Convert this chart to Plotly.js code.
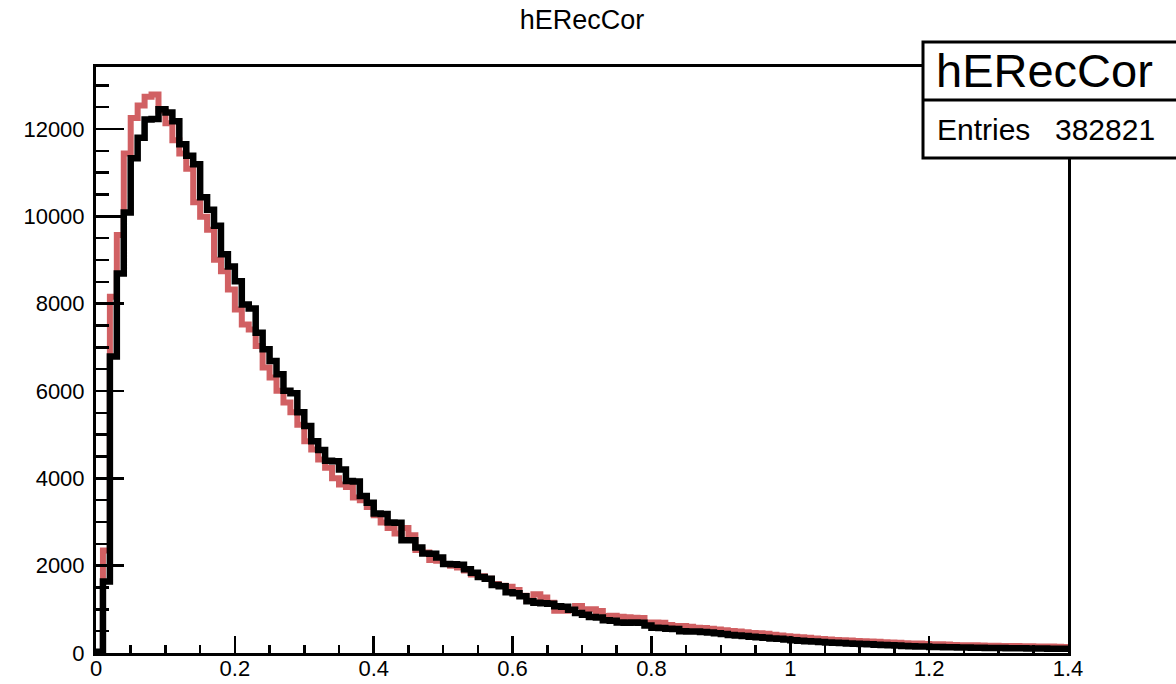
<!DOCTYPE html>
<html>
<head>
<meta charset="utf-8">
<script src="https://cdn.plot.ly/plotly-3.0.1.min.js"></script>
<style>html,body{margin:0;padding:0;background:#fff;}#chart{width:1176px;height:684px;}</style>
</head>
<body>
<div id="chart"></div>
<script>
// Histogram binning: 140 bins from 0 to 1.4
const binLow = 0;
const binWidth = 0.01;

// Black histogram (hERecCor)
const blackCounts = [
  30, 1640, 6790, 8690, 10090, 11330, 11800, 12220, 12230, 12450,
  12380, 12180, 11650, 11385, 11195, 10436, 10150, 9785, 9130, 8853,
  8512, 7980, 7889, 7334, 6954, 6688, 6384, 6004, 5951, 5511,
  5200, 4850, 4650, 4400, 4390, 4203, 3937, 3930, 3595, 3443,
  3192, 3185, 2987, 2980, 2584, 2580, 2417, 2280, 2275, 2189,
  2037, 2030, 2020, 1920, 1840, 1740, 1700, 1560, 1530, 1390,
  1370, 1300, 1185, 1150, 1140, 1130, 1070, 1060, 990, 915,
  875, 825, 815, 750, 740, 700, 690, 700, 690, 630,
  580, 575, 555, 550, 500, 495, 490, 480, 470, 455,
  435, 415, 398, 390, 372, 362, 348, 334, 328, 312,
  294, 280, 270, 262, 252, 240, 232, 228, 218, 212,
  205, 198, 190, 186, 176, 170, 162, 157, 150, 148,
  140, 139, 134, 131, 128, 124, 122, 119, 117, 115,
  112, 111, 108, 107, 104, 103, 101, 99, 97, 95
];

// Red histogram (comparison)
const redCounts = [
  0, 2350, 8160, 9570, 11440, 12250, 12540, 12740, 12790, 12420,
  12130, 11740, 11440, 11090, 10320, 9990, 9690, 9006, 8740, 8322,
  7866, 7524, 7410, 7029, 6536, 6308, 6004, 5739, 5511, 5230,
  4850, 4660, 4430, 4240, 4000, 3860, 3800, 3560, 3496, 3344,
  3154, 2987, 2865, 2736, 2865, 2698, 2356, 2300, 2128, 2110,
  2040, 2000, 1960, 1890, 1800, 1760, 1700, 1580, 1540, 1520,
  1440, 1310, 1200, 1345, 1269, 1150, 965, 970, 985, 1079,
  1003, 1000, 960, 850, 851, 828, 820, 810, 800, 700,
  699, 690, 640, 620, 616, 600, 580, 570, 555, 540,
  520, 505, 495, 475, 460, 450, 440, 420, 400, 385,
  375, 360, 350, 330, 320, 310, 298, 292, 285, 275,
  270, 265, 255, 248, 242, 235, 225, 220, 215, 208,
  202, 198, 192, 185, 180, 178, 175, 172, 168, 165,
  162, 160, 158, 155, 152, 150, 148, 146, 143, 140
];

const yTickVals = [0, 2000, 4000, 6000, 8000, 10000, 12000];
const xTickVals = [0, 0.2, 0.4, 0.6, 0.8, 1, 1.2, 1.4];
const xTickText = ['0', '0.2', '0.4', '0.6', '0.8', '1', '1.2', '1.4'];

const histTitle = 'hERecCor';
const statsName = 'hERecCor';
const statsLabel = 'Entries';
const statsEntries = '382821';

function stepXY(counts) {
  const xs = [], ys = [];
  for (let i = 0; i < counts.length; i++) {
    xs.push(+(binLow + i * binWidth).toFixed(6));
    ys.push(counts[i]);
  }
  xs.push(+(binLow + counts.length * binWidth).toFixed(6));
  ys.push(counts[counts.length - 1]);
  return {xs, ys};
}

const r = stepXY(redCounts);
const b = stepXY(blackCounts);

const FONT = 'Liberation Sans, Arial, Helvetica, sans-serif';

const traces = [
  {x: r.xs, y: r.ys, type: 'scatter', mode: 'lines', line: {shape: 'hv', color: '#d16063', width: 6}, hoverinfo: 'skip'},
  {x: b.xs, y: b.ys, type: 'scatter', mode: 'lines', line: {shape: 'hv', color: '#000000', width: 6.5}, hoverinfo: 'skip'}
];

// plot area in pixels: x 96..1068, y 67..653.5
const L = 96, R = 1068, T = 67, B = 653.5;
const px = v => (v - L) / (R - L);
const py = v => (B - v) / (B - T);

const layout = {
  width: 1176, height: 684,
  margin: {l: L, r: 1176 - R, t: T, b: 684 - B, pad: 0},
  paper_bgcolor: '#fff', plot_bgcolor: '#fff',
  showlegend: false,
  font: {family: FONT, color: '#000'},
  title: {text: histTitle, font: {family: FONT, size: 27, color: '#000'}, x: 0.5, xref: 'paper', xanchor: 'center', y: 1 - 20/684, yanchor: 'middle'},
  xaxis: {
    range: [0, 1.4], tickvals: xTickVals, ticktext: xTickText,
    ticks: 'inside', ticklen: 17, tickwidth: 2.5, tickcolor: '#000',
    minor: {dtick: 0.05, ticks: 'inside', ticklen: 8, tickwidth: 2.5, tickcolor: '#000', showgrid: false},
    showline: true, linewidth: 3, linecolor: '#000', mirror: true,
    showgrid: false, zeroline: false, ticklabelstandoff: -6,
    tickfont: {family: FONT, size: 22, color: '#000'}
  },
  yaxis: {
    range: [0, 13420], tickvals: yTickVals, tickformat: 'd',
    ticks: 'inside', ticklen: 28, tickwidth: 2.5, tickcolor: '#000',
    minor: {dtick: 500, ticks: 'inside', ticklen: 13, tickwidth: 2.5, tickcolor: '#000', showgrid: false},
    showline: true, linewidth: 3, linecolor: '#000', mirror: true,
    showgrid: false, zeroline: false, ticklabelstandoff: 4,
    tickfont: {family: FONT, size: 22, color: '#000'}
  },
  shapes: [
    {type: 'rect', xref: 'paper', yref: 'paper', x0: px(923), x1: px(1180), y0: py(158), y1: py(42), fillcolor: '#fff', line: {color: '#000', width: 3}, layer: 'above'},
    {type: 'line', xref: 'paper', yref: 'paper', x0: px(923), x1: px(1180), y0: py(100), y1: py(100), line: {color: '#000', width: 3}, layer: 'above'}
  ],
  annotations: [
    {xref: 'paper', yref: 'paper', x: px(1044), y: py(71), text: statsName, showarrow: false, xanchor: 'center', yanchor: 'middle', font: {family: FONT, size: 47, color: '#000'}},
    {xref: 'paper', yref: 'paper', x: px(935), y: py(130), text: statsLabel, showarrow: false, xanchor: 'left', yanchor: 'middle', font: {family: FONT, size: 30, color: '#000'}},
    {xref: 'paper', yref: 'paper', x: px(1157), y: py(130), text: statsEntries, showarrow: false, xanchor: 'right', yanchor: 'middle', font: {family: FONT, size: 30, color: '#000'}}
  ]
};

Plotly.newPlot('chart', traces, layout, {staticPlot: true, displayModeBar: false});
</script>
</body>
</html>
